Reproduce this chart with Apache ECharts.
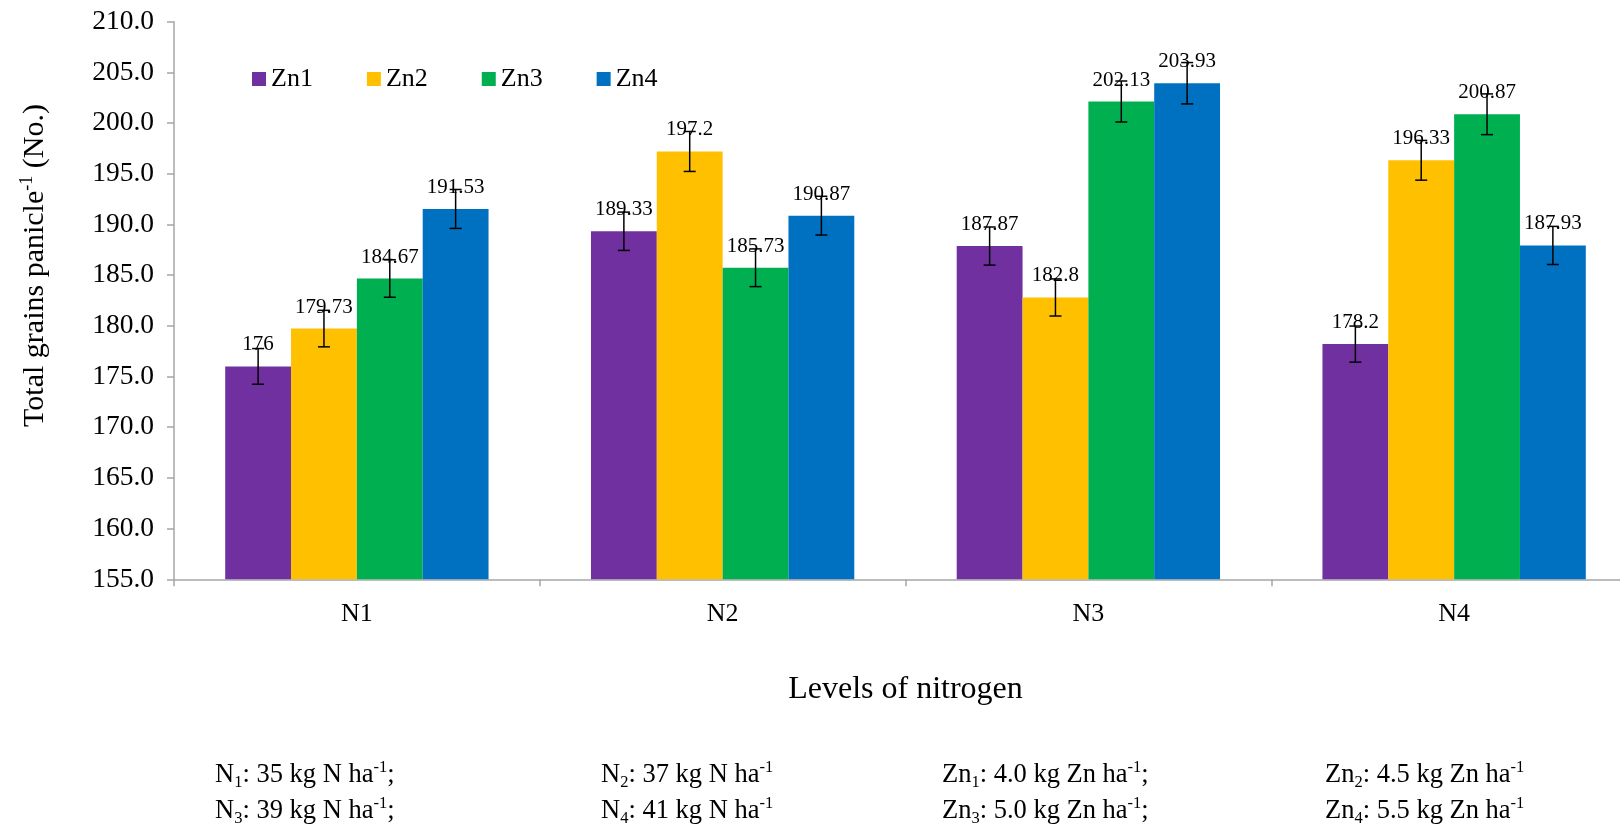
<!DOCTYPE html>
<html>
<head>
<meta charset="utf-8">
<script src="https://cdn.jsdelivr.net/npm/echarts@6/dist/echarts.min.js"></script>
<style>
  html, body { margin: 0; padding: 0; background: #fff; }
  #chart { width: 1620px; height: 833px; }
</style>
</head>
<body>
<div id="chart"></div>
<script>
const categories = ['N1', 'N2', 'N3', 'N4'];
const seriesNames = ['Zn1', 'Zn2', 'Zn3', 'Zn4'];
const colors = ['#7030A0', '#FFC000', '#00B050', '#0070C0'];

// values per Zn level, one entry per N level
const zn1 = [176, 189.33, 187.87, 178.2];
const zn2 = [179.73, 197.2, 182.8, 196.33];
const zn3 = [184.67, 185.73, 202.13, 200.87];
const zn4 = [191.53, 190.87, 203.93, 187.93];

// error bar half lengths
const err1 = [1.76, 1.89, 1.88, 1.78];
const err2 = [1.80, 1.97, 1.83, 1.96];
const err3 = [1.85, 1.86, 2.02, 2.01];
const err4 = [1.92, 1.91, 2.04, 1.88];

const yMin = 155, yMax = 210, yStep = 5;

const FONT = '"Liberation Serif", "Times New Roman", serif';
const values = [zn1, zn2, zn3, zn4];
const errs = [err1, err2, err3, err4];
const catGap = 0.28;

const chart = echarts.init(document.getElementById('chart'));

const barSeries = seriesNames.map((name, i) => ({
  name: name,
  type: 'bar',
  data: values[i],
  barGap: '0%',
  barCategoryGap: (catGap * 100) + '%',
  itemStyle: { color: colors[i] },
  label: {
    show: true,
    position: 'top',
    distance: 11,
    fontFamily: FONT,
    fontSize: 21,
    color: '#000'
  },
  z: 2
}));

// error bars: [category index, low, high, series index]
const errData = [];
values.forEach((vals, s) => {
  vals.forEach((v, c) => {
    errData.push([c, v - errs[s][c], v + errs[s][c], s]);
  });
});

const errorSeries = {
  type: 'custom',
  name: 'err',
  data: errData,
  encode: { x: 0, y: [1, 2] },
  z: 5,
  renderItem: function (params, api) {
    const c = api.value(0), s = api.value(3);
    const band = api.size([1, 0])[0];
    const barW = band * (1 - catGap) / seriesNames.length;
    const lo = api.coord([c, api.value(1)]);
    const hi = api.coord([c, api.value(2)]);
    const x = lo[0] + (s - (seriesNames.length - 1) / 2) * barW;
    const cap = 6;
    const st = { stroke: '#000', lineWidth: 1.5 };
    return {
      type: 'group',
      children: [
        { type: 'line', shape: { x1: x, y1: lo[1], x2: x, y2: hi[1] }, style: st },
        { type: 'line', shape: { x1: x - cap, y1: lo[1], x2: x + cap, y2: lo[1] }, style: st },
        { type: 'line', shape: { x1: x - cap, y1: hi[1], x2: x + cap, y2: hi[1] }, style: st }
      ]
    };
  }
};

const noteRich = {
  a: { fontFamily: FONT, fontSize: 26.5, color: '#000', lineHeight: 32 },
  sub: { fontFamily: FONT, fontSize: 16.5, color: '#000', verticalAlign: 'bottom', lineHeight: 16 },
  sup: { fontFamily: FONT, fontSize: 16.5, color: '#000', verticalAlign: 'top', lineHeight: 16 }
};
const notes = [
  { x: 215, y: 775, t: '{a|N}{sub|1}{a|: 35 kg N ha}{sup|-1}{a|;}' },
  { x: 601, y: 775, t: '{a|N}{sub|2}{a|: 37 kg N ha}{sup|-1}' },
  { x: 942, y: 775, t: '{a|Zn}{sub|1}{a|: 4.0 kg Zn ha}{sup|-1}{a|;}' },
  { x: 1325, y: 775, t: '{a|Zn}{sub|2}{a|: 4.5 kg Zn ha}{sup|-1}' },
  { x: 215, y: 811, t: '{a|N}{sub|3}{a|: 39 kg N ha}{sup|-1}{a|;}' },
  { x: 601, y: 811, t: '{a|N}{sub|4}{a|: 41 kg N ha}{sup|-1}' },
  { x: 942, y: 811, t: '{a|Zn}{sub|3}{a|: 5.0 kg Zn ha}{sup|-1}{a|;}' },
  { x: 1325, y: 811, t: '{a|Zn}{sub|4}{a|: 5.5 kg Zn ha}{sup|-1}' }
];

const option = {
  animation: false,
  backgroundColor: '#fff',
  color: colors,
  grid: {
    left: 174,
    right: -17,
    top: 21.7,
    bottom: 253.7,
    containLabel: false,
    outerBoundsMode: 'none'
  },
  legend: {
    data: seriesNames,
    left: 247,
    top: 61,
    itemWidth: 14,
    itemHeight: 14,
    itemGap: 54,
    icon: 'rect',
    textStyle: { fontFamily: FONT, fontSize: 26, color: '#000', lineHeight: 26 }
  },
  xAxis: {
    type: 'category',
    data: categories,
    axisLine: { lineStyle: { color: '#a6a6a6', width: 1.5 } },
    axisTick: { show: true, length: 7, lineStyle: { color: '#a6a6a6', width: 1.5 } },
    axisLabel: { fontFamily: FONT, fontSize: 26, color: '#000', margin: 22 },
    name: 'Levels of nitrogen',
    nameLocation: 'middle',
    nameGap: 94,
    nameTextStyle: { fontFamily: FONT, fontSize: 32, color: '#000' }
  },
  yAxis: {
    type: 'value',
    min: yMin,
    max: yMax,
    interval: yStep,
    splitLine: { show: false },
    axisLine: { show: true, lineStyle: { color: '#a6a6a6', width: 1.5 } },
    axisTick: { show: true, length: 7, lineStyle: { color: '#a6a6a6', width: 1.5 } },
    axisLabel: {
      fontFamily: FONT, fontSize: 27.5, color: '#000', margin: 20,
      formatter: v => v.toFixed(1)
    },
    name: '{a|Total grains panicle}{s|-1}{a| (No.)}',
    nameLocation: 'middle',
    nameGap: 122,
    nameRotate: 90,
    nameTextStyle: {
      padding: [0, 0, 0, 70],
      rich: {
        a: { fontFamily: FONT, fontSize: 30, color: '#000', lineHeight: 34 },
        s: { fontFamily: FONT, fontSize: 18, color: '#000', verticalAlign: 'top', lineHeight: 18 }
      }
    }
  },
  series: barSeries.concat([errorSeries]),
  graphic: notes.map(n => ({
    type: 'text',
    left: n.x,
    top: n.y - 16,
    style: { text: n.t, rich: noteRich }
  }))
};

chart.setOption(option);
</script>
</body>
</html>
